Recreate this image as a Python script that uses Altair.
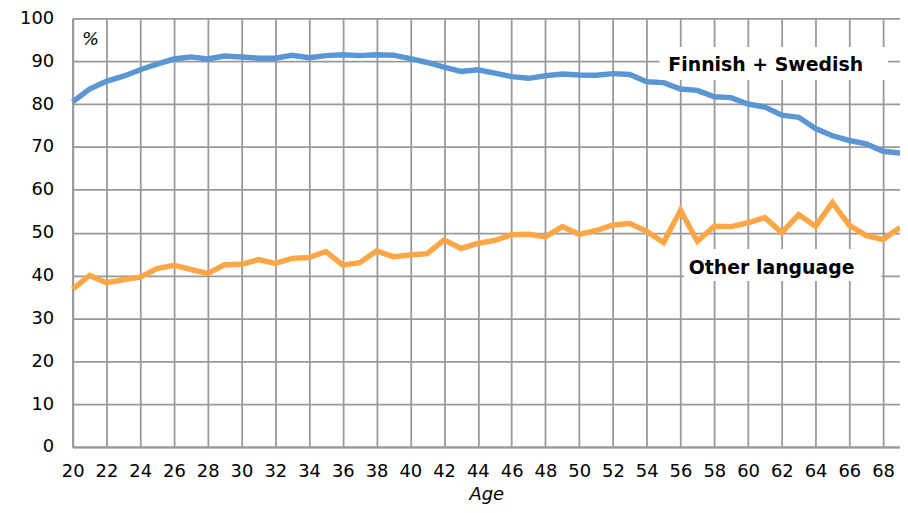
import altair as alt
import pandas as pd

ages = list(range(20, 70))
finnish_swedish = [80.5, 83.5, 85.3, 86.5, 88.0, 89.3, 90.5, 91.0, 90.5, 91.2,
                   91.0, 90.7, 90.7, 91.4, 90.8, 91.3, 91.5, 91.3, 91.5, 91.4,
                   90.6, 89.7, 88.6, 87.6, 88.0, 87.2, 86.4, 86.0, 86.6, 87.0,
                   86.8, 86.7, 87.1, 86.9, 85.2, 85.0, 83.5, 83.2, 81.7, 81.5,
                   80.0, 79.3, 77.4, 76.9, 74.3, 72.6, 71.5, 70.7, 69.0, 68.6]
other_language = [36.8, 40.0, 38.3, 39.0, 39.6, 41.6, 42.4, 41.4, 40.5, 42.5,
                  42.6, 43.7, 42.8, 44.0, 44.2, 45.6, 42.4, 43.0, 45.7, 44.4,
                  44.8, 45.1, 48.3, 46.3, 47.5, 48.2, 49.5, 49.6, 49.0, 51.4,
                  49.6, 50.5, 51.8, 52.1, 50.3, 47.7, 55.2, 48.0, 51.5, 51.4,
                  52.3, 53.5, 50.0, 54.2, 51.5, 57.0, 51.7, 49.3, 48.4, 51.2]
series_names = ["Finnish + Swedish", "Other language"]
series_colors = ["#5B96D4", "#FCA646"]
x_ticks = list(range(20, 70, 2))
y_ticks = list(range(0, 101, 10))

# annotation labels (data coordinates)
label_text = ["Finnish + Swedish", "Other language"]
label_x = [61.05, 61.4]
label_y = [89.1, 41.8]
box_x = [54.75, 56.2]
box_x2 = [68.3, 67.9]
box_y = [93.3, 46.2]
box_y2 = [85.6, 38.7]

FONT = "DejaVu Sans"

df = pd.DataFrame({
    "age": ages * 2,
    "value": finnish_swedish + other_language,
    "series": [series_names[0]] * len(ages) + [series_names[1]] * len(ages),
})
ann = pd.DataFrame({"text": label_text, "x": label_x, "y": label_y,
                    "bx": box_x, "bx2": box_x2, "by": box_y, "by2": box_y2})
pct = pd.DataFrame({"text": ["%"], "x": [21.06], "y": [94.9]})

xscale = alt.Scale(domain=[20, 69], nice=False, zero=False)
yscale = alt.Scale(domain=[0, 100], nice=False)

lines = alt.Chart(df).mark_line(strokeWidth=5.5, strokeJoin="miter").encode(
    x=alt.X("age:Q", scale=xscale,
            axis=alt.Axis(values=x_ticks, tickCount=60, title="Age",
                          titleFontStyle="italic",
                          titleFontWeight="normal", titleFont=FONT, titleFontSize=18,
                          titleColor="#000", titlePadding=5,
                          labelFont=FONT, labelFontSize=18, labelColor="#000",
                          labelPadding=16, ticks=False, domain=True,
                          domainColor="#999", domainWidth=2, labelOverlap=False,
                          gridColor="#999", gridWidth=1.8, labelFlush=False)),
    y=alt.Y("value:Q", scale=yscale,
            axis=alt.Axis(values=y_ticks, tickCount=20, title=None, labelFont=FONT,
                          labelFontSize=18, labelColor="#000", labelPadding=19,
                          ticks=False, domain=True, domainColor="#999", domainWidth=2,
                          labelOverlap=False, gridColor="#999", gridWidth=1.8)),
    color=alt.Color("series:N", scale=alt.Scale(domain=series_names, range=series_colors),
                    legend=None),
)

boxes = alt.Chart(ann).mark_rect(color="white").encode(
    x=alt.X("bx:Q", scale=xscale), x2="bx2:Q",
    y=alt.Y("by:Q", scale=yscale), y2="by2:Q",
)
texts = alt.Chart(ann).mark_text(font=FONT, fontSize=19, fontWeight="bold",
                                 color="#000", align="center", baseline="middle").encode(
    x=alt.X("x:Q", scale=xscale), y=alt.Y("y:Q", scale=yscale), text="text:N",
)
pct_text = alt.Chart(pct).mark_text(font=FONT, fontSize=18, fontStyle="italic",
                                    color="#000", align="center", baseline="middle").encode(
    x=alt.X("x:Q", scale=xscale), y=alt.Y("y:Q", scale=yscale), text="text:N",
)

chart = alt.layer(lines, boxes, texts, pct_text).properties(
    width=832, height=431,
    autosize=alt.AutoSizeParams(type="none"),
    padding={"left": 65, "top": 9, "right": 0, "bottom": 56},
).configure_view(stroke=None).configure(background="white")

chart.save("out.html", embed_options={"renderer": "svg", "actions": False})
